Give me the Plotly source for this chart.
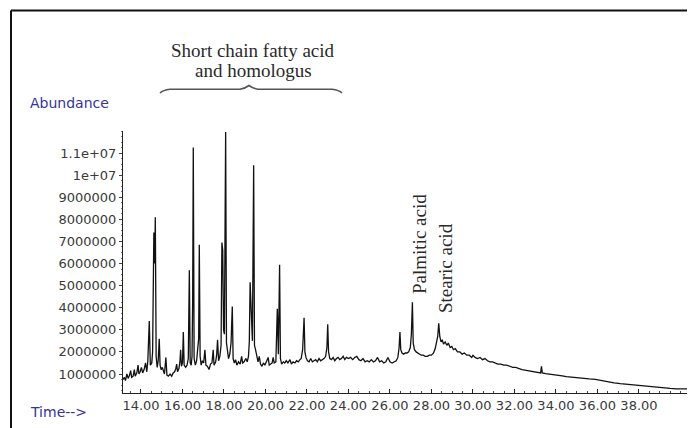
import plotly.graph_objects as go

# Retention time (min) and abundance (millions of counts)
time_min = [
    13.13, 13.20, 13.25, 13.32, 13.38, 13.45, 13.50, 13.55, 13.62, 13.68, 13.72, 13.80, 13.86, 13.90, 13.96,
    14.02, 14.08, 14.15, 14.22, 14.28, 14.33, 14.40, 14.45, 14.52, 14.56, 14.59, 14.62, 14.66, 14.69, 14.73,
    14.78, 14.83, 14.88, 14.92, 14.97, 15.03, 15.08, 15.13, 15.20, 15.25, 15.32, 15.40, 15.48, 15.55, 15.62,
    15.68, 15.72, 15.76, 15.83, 15.88, 15.91, 15.95, 16.00, 16.04, 16.08, 16.15, 16.22, 16.28, 16.33, 16.37,
    16.42, 16.46, 16.49, 16.52, 16.56, 16.62, 16.68, 16.74, 16.78, 16.81, 16.85, 16.90, 16.96, 17.02, 17.08,
    17.13, 17.20, 17.28, 17.35, 17.42, 17.48, 17.52, 17.60, 17.65, 17.69, 17.74, 17.80, 17.86, 17.90, 17.94,
    17.98, 18.02, 18.08, 18.12, 18.16, 18.22, 18.28, 18.34, 18.40, 18.44, 18.50, 18.56, 18.62, 18.70, 18.78,
    18.85, 18.90, 18.97, 19.05, 19.12, 19.18, 19.22, 19.26, 19.30, 19.33, 19.37, 19.43, 19.47, 19.52, 19.58,
    19.64, 19.70, 19.76, 19.83, 19.90, 19.97, 20.05, 20.13, 20.18, 20.25, 20.32, 20.37, 20.42, 20.50, 20.57,
    20.62, 20.68, 20.72, 20.78, 20.86, 20.93, 21.00, 21.08, 21.18, 21.25, 21.33, 21.42, 21.50, 21.58, 21.66,
    21.72, 21.79, 21.86, 21.90, 21.95, 22.02, 22.10, 22.18, 22.26, 22.34, 22.42, 22.50, 22.58, 22.66, 22.74,
    22.82, 22.90, 22.96, 23.00, 23.04, 23.10, 23.18, 23.26, 23.34, 23.42, 23.50, 23.58, 23.66, 23.74, 23.82,
    23.90, 24.00, 24.10, 24.20, 24.30, 24.40, 24.50, 24.60, 24.70, 24.80, 24.90, 25.00, 25.10, 25.20, 25.30,
    25.40, 25.50, 25.60, 25.70, 25.80, 25.90, 26.00, 26.10, 26.20, 26.30, 26.38, 26.44, 26.48, 26.52, 26.58,
    26.66, 26.74, 26.82, 26.90, 26.98, 27.03, 27.08, 27.12, 27.18, 27.26, 27.34, 27.42, 27.50, 27.60, 27.70,
    27.80, 27.90, 28.00, 28.10, 28.18, 28.25, 28.30, 28.35, 28.40, 28.46, 28.52, 28.58, 28.66, 28.74, 28.81,
    28.90, 28.98, 29.06, 29.15, 29.25, 29.37, 29.48, 29.58, 29.70, 29.82, 29.94, 30.00, 30.10, 30.22, 30.34,
    30.46, 30.58, 30.70, 30.82, 30.94, 31.06, 31.20, 31.34, 31.48, 31.62, 31.78, 31.92, 32.06, 32.20, 32.36,
    32.50, 32.64, 32.80, 32.96, 33.10, 33.26, 33.30, 33.34, 33.50, 33.70, 33.90, 34.10, 34.30, 34.50, 34.75,
    35.00, 35.30, 35.60, 35.90, 36.20, 36.50, 36.80, 37.10, 37.40, 37.70, 38.00, 38.30, 38.60, 38.90, 39.20,
    39.50, 39.80, 40.10, 40.40, 40.70,
]
abundance_millions = [
    0.75, 0.85, 0.70, 1.00, 0.80, 0.95, 1.15, 0.85, 0.90, 1.20, 0.90, 1.05, 1.40, 1.00, 1.10,
    1.30, 1.05, 1.20, 1.50, 1.10, 1.60, 3.40, 1.40, 1.50, 2.00, 4.50, 7.40, 6.00, 8.10, 1.80,
    1.30, 1.60, 2.60, 1.40, 1.20, 1.30, 1.10, 1.00, 1.75, 0.95, 0.90, 1.00, 0.90, 1.05, 1.10,
    1.25, 1.45, 1.10, 1.25, 1.60, 2.10, 1.35, 1.50, 2.90, 1.40, 1.30, 1.40, 1.70, 5.70, 1.50,
    1.40, 1.80, 4.30, 11.25, 1.70, 1.40, 1.60, 2.20, 2.60, 6.85, 1.80, 1.40, 1.60, 1.50, 2.10,
    1.40, 1.35, 1.20, 1.45, 1.50, 2.10, 1.40, 1.55, 1.90, 2.55, 1.60, 1.80, 2.30, 6.95, 6.60,
    3.00, 2.80, 11.95, 2.40, 2.10, 1.70, 1.90, 2.40, 4.05, 1.70, 1.50, 1.65, 1.40, 1.55, 1.45,
    1.80, 1.50, 1.55, 1.70, 1.55, 1.80, 2.45, 5.15, 4.00, 3.00, 2.50, 10.45, 2.30, 2.10, 1.80,
    1.55, 1.80, 1.45, 1.35, 1.50, 1.40, 1.55, 1.75, 1.40, 1.45, 1.50, 1.75, 1.50, 1.55, 3.95,
    1.90, 5.95, 1.70, 1.45, 1.55, 1.50, 1.60, 1.50, 1.65, 1.45, 1.55, 1.50, 1.60, 1.55, 1.65,
    1.70, 2.10, 3.55, 2.00, 1.75, 1.60, 1.55, 1.70, 1.55, 1.60, 1.65, 1.55, 1.70, 1.60, 1.65,
    1.70, 1.80, 2.20, 3.25, 2.00, 1.70, 1.65, 1.75, 1.60, 1.70, 1.75, 1.65, 1.70, 1.80, 1.65,
    1.75, 1.70, 1.75, 1.65, 1.75, 1.80, 1.65, 1.60, 1.70, 1.55, 1.60, 1.55, 1.65, 1.55, 1.60,
    1.75, 1.55, 1.60, 1.50, 1.55, 1.75, 1.55, 1.50, 1.55, 1.60, 1.75, 2.20, 2.90, 2.10, 1.95,
    1.90, 1.95, 1.95, 2.00, 2.20, 2.80, 4.25, 2.40, 2.10, 2.00, 1.95, 1.90, 1.85, 1.85, 1.80,
    1.80, 1.85, 1.85, 1.95, 2.15, 2.50, 2.70, 3.30, 2.70, 2.45, 2.55, 2.35, 2.45, 2.30, 2.40,
    2.20, 2.25, 2.10, 2.15, 2.00, 2.00, 1.90, 1.95, 1.85, 1.85, 1.75, 1.85, 1.75, 1.70, 1.75,
    1.65, 1.70, 1.60, 1.55, 1.55, 1.50, 1.45, 1.45, 1.40, 1.40, 1.35, 1.30, 1.30, 1.25, 1.20,
    1.18, 1.15, 1.12, 1.10, 1.08, 1.05, 1.35, 1.05, 1.02, 1.00, 0.98, 0.95, 0.92, 0.88, 0.85,
    0.82, 0.80, 0.78, 0.76, 0.70, 0.65, 0.60, 0.56, 0.53, 0.50, 0.48, 0.46, 0.43, 0.40, 0.37,
    0.35, 0.33, 0.33, 0.32, 0.32,
]

x_tick_vals = [14, 16, 18, 20, 22, 24, 26, 28, 30, 32, 34, 36, 38]
x_tick_text = ["14.00", "16.00", "18.00", "20.00", "22.00", "24.00", "26.00",
               "28.00", "30.00", "32.00", "34.00", "36.00", "38.00"]
y_tick_vals = [1e6, 2e6, 3e6, 4e6, 5e6, 6e6, 7e6, 8e6, 9e6, 1e7, 1.1e7]
y_tick_text = ["1000000", "2000000", "3000000", "4000000", "5000000", "6000000",
               "7000000", "8000000", "9000000", "1e+07", "1.1e+07"]

abundance = [v * 1e6 for v in abundance_millions]

OFF = 8  # page body margin
W, H = 695 - OFF, 428 - OFF
L, R, T, B = 123 - OFF, 0, 131 - OFF, 35
PW, PH = W - L - R, H - T - B


def px(xs):
    return (xs - OFF - L) / PW


def py(ys):
    return (H - B - (ys - OFF)) / PH


fig = go.Figure()
fig.add_trace(go.Scatter(
    x=time_min, y=abundance, mode="lines",
    line=dict(color="#111111", width=1.3), hoverinfo="skip",
))

tick_font = dict(family="DejaVu Sans", size=13, color="#3a3a3a")

fig.update_layout(
    width=W, height=H,
    margin=dict(l=L, r=R, t=T, b=B, pad=0),
    paper_bgcolor="white", plot_bgcolor="white",
    showlegend=False,
    xaxis=dict(
        range=[13.133, 40.70], showgrid=False, zeroline=False,
        showline=True, linecolor="#222222", linewidth=1,
        tickmode="array", tickvals=x_tick_vals, ticktext=x_tick_text,
        ticks="inside", ticklen=4, tickcolor="#222222", tickangle=0,
        minor=dict(dtick=0.5, ticks="inside", ticklen=2, tickcolor="#444444"),
        tickfont=tick_font,
    ),
    yaxis=dict(
        range=[0.14e6, 12.0e6], showgrid=False, zeroline=False,
        showline=True, linecolor="#222222", linewidth=1,
        tickmode="array", tickvals=y_tick_vals, ticktext=y_tick_text,
        ticks="outside", ticklen=3, tickcolor="#444444",
        minor=dict(dtick=2.5e5, ticks="outside", ticklen=1, tickcolor="#777777"),
        tickfont=tick_font,
    ),
)

serif = dict(family="Liberation Serif", size=19, color="#2a2a2a")
blue = dict(family="DejaVu Sans", size=14, color="#34349a")
annotations = [
    dict(text="Abundance", x=px(28), y=py(103), xanchor="left", yanchor="middle", font=blue),
    dict(text="Time-->", x=px(28), y=py(412), xanchor="left", yanchor="middle", font=blue),
    dict(text="Short chain fatty acid", x=px(253), y=py(50), xanchor="center", yanchor="middle",
         font=serif),
    dict(text="and homologus", x=px(253), y=py(70.5), xanchor="center", yanchor="middle",
         font=serif),
    dict(text="Palmitic acid", x=px(419), y=py(244), xanchor="center", yanchor="middle",
         textangle=-90, font=serif),
    dict(text="Stearic acid", x=px(445), y=py(268), xanchor="center", yanchor="middle",
         textangle=-90, font=serif),
]
for a in annotations:
    a.update(xref="paper", yref="paper", showarrow=False)
fig.update_layout(annotations=annotations)

# Curly brace under the heading
pts = [(160, 93), (163, 90), (170, 89.2), (240, 89.2), (245, 88.5), (249, 85.5),
       (253, 88.5), (258, 89.2), (332, 89.2), (339, 90), (342, 93)]
path = "M {} {}".format(px(pts[0][0]), py(pts[0][1]))
path += " Q {} {} {} {}".format(px(pts[1][0]), py(pts[1][1]), px(pts[2][0]), py(pts[2][1]))
path += " L {} {}".format(px(pts[3][0]), py(pts[3][1]))
path += " Q {} {} {} {}".format(px(pts[4][0]), py(pts[4][1]), px(pts[5][0]), py(pts[5][1]))
path += " Q {} {} {} {}".format(px(pts[6][0]), py(pts[6][1]), px(pts[7][0]), py(pts[7][1]))
path += " L {} {}".format(px(pts[8][0]), py(pts[8][1]))
path += " Q {} {} {} {}".format(px(pts[9][0]), py(pts[9][1]), px(pts[10][0]), py(pts[10][1]))

shapes = [
    dict(type="path", path=path, xref="paper", yref="paper",
         line=dict(color="#555555", width=1.6)),
    # outer frame (top and left edges visible)
    dict(type="line", xref="paper", yref="paper", x0=px(11), x1=px(700), y0=py(10.5), y1=py(10.5),
         line=dict(color="#111111", width=2)),
    dict(type="line", xref="paper", yref="paper", x0=px(11), x1=px(11), y0=py(10.5), y1=py(430),
         line=dict(color="#111111", width=2)),
]
fig.update_layout(shapes=shapes)

fig.write_html("out.html")
